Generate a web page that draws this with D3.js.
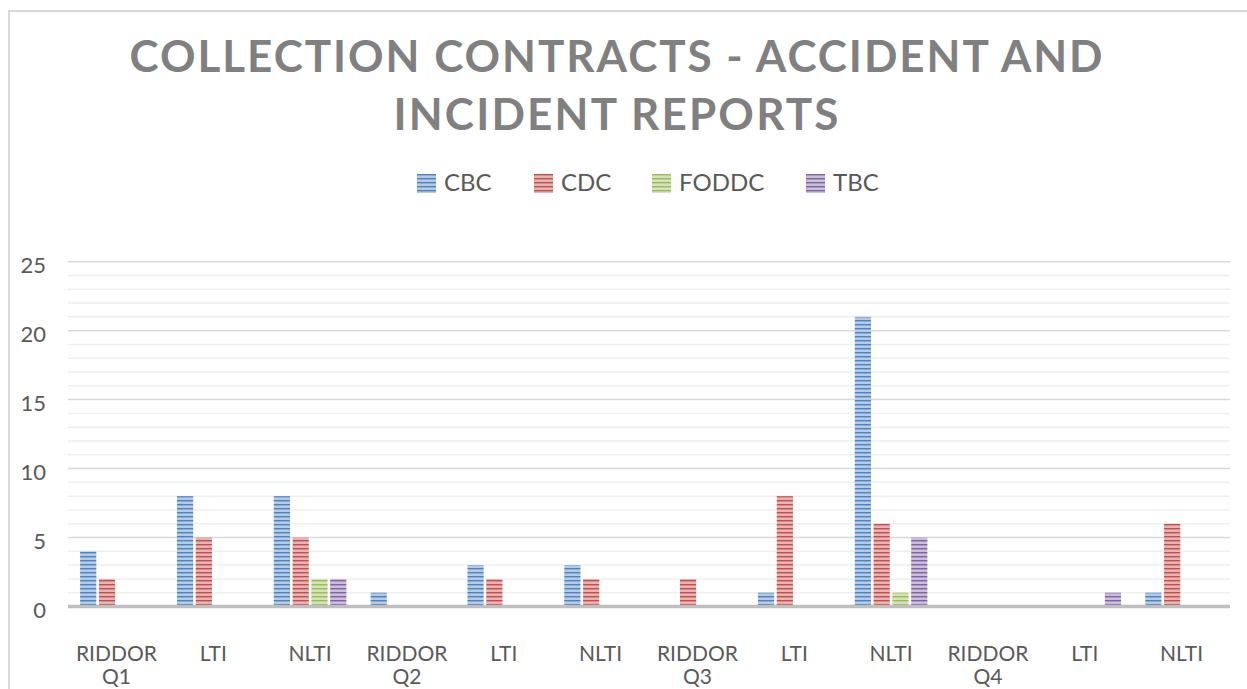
<!DOCTYPE html>
<html>
<head>
<meta charset="utf-8">
<script src="https://cdn.jsdelivr.net/npm/d3@7"></script>
<style>
  body { margin: 0; background: #fff; }
  svg { display: block; font-family: Lato, "Open Sans", sans-serif; }
</style>
</head>
<body>
<svg width="1247" height="689"></svg>
<script>
// data
var categories = ["RIDDOR Q1", "LTI", "NLTI", "RIDDOR Q2", "LTI", "NLTI",
                  "RIDDOR Q3", "LTI", "NLTI", "RIDDOR Q4", "LTI", "NLTI"];
var seriesNames = ["CBC", "CDC", "FODDC", "TBC"];
var seriesColors = ["#4f81bd", "#c0504d", "#9bbb59", "#8064a2"];
var cbc   = [4, 8, 8, 1, 3, 3, 0, 1, 21, 0, 0, 1];
var cdc   = [2, 5, 5, 0, 2, 2, 2, 8, 6, 0, 0, 6];
var foddc = [0, 0, 2, 0, 0, 0, 0, 0, 1, 0, 0, 0];
var tbc   = [0, 0, 2, 0, 0, 0, 0, 0, 5, 0, 1, 0];
var yTicks = [0, 5, 10, 15, 20, 25];
var titleLines = ["COLLECTION CONTRACTS - ACCIDENT AND", "INCIDENT REPORTS"];

var values = [cbc, cdc, foddc, tbc];

var svg = d3.select("svg");
var defs = svg.append("defs");

// narrow horizontal stripe pattern per series
seriesColors.forEach(function(c, i) {
  var p = defs.append("pattern")
    .attr("id", "pat" + i)
    .attr("patternUnits", "userSpaceOnUse")
    .attr("width", 8).attr("height", 4);
  p.append("rect").attr("width", 8).attr("height", 4).attr("fill", "#fff");
  p.append("rect").attr("y", 0).attr("width", 8).attr("height", 1.5).attr("fill", c);
  p.append("rect").attr("y", 1.5).attr("width", 8).attr("height", 1).attr("fill", c).attr("opacity", 0.6);
  p.append("rect").attr("y", 2.5).attr("width", 8).attr("height", 1).attr("fill", c).attr("opacity", 0.35);
  p.append("rect").attr("y", 3.5).attr("width", 8).attr("height", 0.5).attr("fill", c).attr("opacity", 0.6);
});

// chart border
svg.append("rect")
  .attr("x", 9).attr("y", 11)
  .attr("width", 1250).attr("height", 700)
  .attr("fill", "none")
  .attr("stroke", "#d9d9d9")
  .attr("stroke-width", 2);

// title
svg.selectAll("text.title")
  .data(titleLines)
  .enter()
  .append("text")
  .attr("class", "title")
  .attr("x", 616)
  .attr("y", function(d, i) { return 72 + i * 58; })
  .attr("text-anchor", "middle")
  .attr("textLength", function(d, i) { return i == 0 ? 973 : 445; })
  .attr("lengthAdjust", "spacing")
  .style("font-size", "44px")
  .style("font-weight", "bold")
  .attr("fill", "#808080")
  .text(function(d) { return d; });

// legend
var legendX = [417, 534, 652, 806];
var legend = svg.append("g")
  .selectAll("g")
  .data(seriesNames)
  .enter()
  .append("g")
  .attr("transform", function(d, i) { return "translate(" + legendX[i] + ",174)"; });
legend.append("rect")
  .attr("width", 19).attr("height", 19)
  .attr("fill", function(d, i) { return "url(#pat" + i + ")"; });
legend.append("text")
  .attr("x", 27).attr("y", 17)
  .style("font-size", "24px")
  .attr("fill", "#595959")
  .text(function(d) { return d; });

// scales
var plotLeft = 68, plotRight = 1230, plotBottom = 606.5, plotTop = 261.7;
var x0 = d3.scaleBand().domain(d3.range(categories.length)).range([plotLeft, plotRight]).padding(0);
var x1 = d3.scaleBand().domain(d3.range(seriesNames.length)).range([0, 72.6]).paddingInner(0.138);
var y = d3.scaleLinear().domain([0, 25]).range([plotBottom, plotTop]);

// gridlines
svg.append("g")
  .selectAll("line")
  .data(d3.range(1, 26).filter(function(v) { return v % 5 != 0; }))
  .enter()
  .append("line")
  .attr("x1", plotLeft).attr("x2", plotRight)
  .attr("y1", function(d) { return y(d); })
  .attr("y2", function(d) { return y(d); })
  .attr("stroke", "#efefef")
  .attr("stroke-width", 1.5);

svg.append("g")
  .selectAll("line")
  .data(yTicks.slice(1))
  .enter()
  .append("line")
  .attr("x1", plotLeft).attr("x2", plotRight)
  .attr("y1", function(d) { return y(d); })
  .attr("y2", function(d) { return y(d); })
  .attr("stroke", "#d9d9d9")
  .attr("stroke-width", 1.5);

// y tick labels
svg.append("g")
  .selectAll("text")
  .data(yTicks)
  .enter()
  .append("text")
  .attr("x", 46)
  .attr("y", function(d) { return y(d) + 11; })
  .attr("text-anchor", "end")
  .style("font-size", "22px")
  .attr("fill", "#595959")
  .text(function(d) { return d; });

// bars
var groups = svg.append("g")
  .selectAll("g")
  .data(categories)
  .enter()
  .append("g")
  .attr("transform", function(d, i) {
    return "translate(" + (x0(i) + x0.bandwidth() / 2 - 36.3) + ",0)";
  });

groups.selectAll("rect")
  .data(function(d, i) {
    return values.map(function(s, j) { return { s: j, v: s[i] }; }).filter(function(e) { return e.v > 0; });
  })
  .enter()
  .append("rect")
  .attr("x", function(d) { return x1(d.s); })
  .attr("width", x1.bandwidth())
  .attr("y", function(d) { return y(d.v); })
  .attr("height", function(d) { return y(0) - y(d.v); })
  .attr("fill", function(d) { return "url(#pat" + d.s + ")"; });

// baseline
svg.append("line")
  .attr("x1", plotLeft).attr("x2", plotRight)
  .attr("y1", plotBottom).attr("y2", plotBottom)
  .attr("stroke", "#bfbfbf")
  .attr("stroke-width", 3.5);

// x category labels
var xl = svg.append("g")
  .selectAll("text")
  .data(categories)
  .enter()
  .append("text")
  .attr("text-anchor", "middle")
  .style("font-size", "21px")
  .attr("fill", "#595959");
xl.selectAll("tspan")
  .data(function(d, i) { return d.split(" ").map(function(w) { return { w: w, i: i }; }); })
  .enter()
  .append("tspan")
  .attr("x", function(d) { return x0(d.i) + x0.bandwidth() / 2; })
  .attr("y", function(d, k) { return 661 + k * 23; })
  .text(function(d) { return d.w; });
</script>
</body>
</html>
